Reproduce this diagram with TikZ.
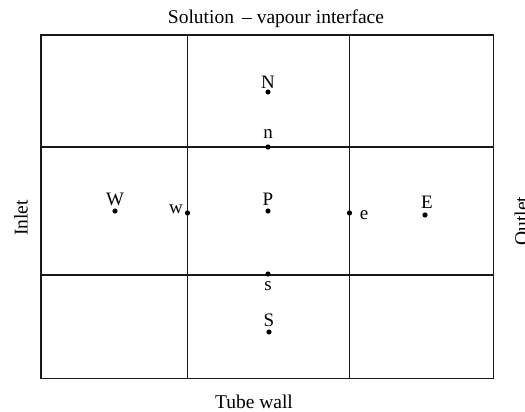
\documentclass[tikz,border=0pt]{standalone}
\usepackage{fontspec}
\setmainfont{Liberation Serif}
\begin{document}
\begin{tikzpicture}[x=1pt,y=-1pt,
  gridline/.style={line width=1.1pt, draw=black!90},
  pt/.style={circle, fill=black, inner sep=0pt, minimum size=5.2pt},
  lbl/.style={font=\fontsize{19}{22}\selectfont, inner sep=0pt},
  captext/.style={font=\fontsize{19.5}{22}\selectfont, inner sep=0pt}]
\useasboundingbox (0,0) rectangle (525,412);
\clip (0,0) rectangle (525,412);
% grid
\draw[gridline] (41,35) rectangle (493.5,378.5);
\draw[gridline] (187.5,35) -- (187.5,378.5);
\draw[gridline] (349.5,35) -- (349.5,378.5);
\draw[gridline] (41,147) -- (493.5,147);
\draw[gridline] (41,275) -- (493.5,275);
% points
\node[pt] (N) at (268,92) {};
\node[pt] (n) at (268,147) {};
\node[pt] (P) at (268,211) {};
\node[pt] (W) at (115,211) {};
\node[pt] (w) at (187.5,213) {};
\node[pt] (e) at (349.5,213) {};
\node[pt] (E) at (425,215) {};
\node[pt] (s) at (268,274) {};
\node[pt] (S) at (269,332) {};
% labels
\node[lbl] (lN) at (268,82) {N};
\node[lbl] (ln) at (268,134) {n};
\node[lbl] (lP) at (268,199) {P};
\node[lbl] (lW) at (115,199) {W};
\node[lbl] (lw) at (176,209) {w};
\node[lbl] (le) at (364,215) {e};
\node[lbl] (lE) at (427,202) {E};
\node[lbl] (ls) at (268,286) {s};
\node[lbl] (lS) at (269,320) {S};
% captions
\node[captext] (top) at (276,19) {Solution \,– vapour interface};
\node[captext] (bot) at (254,402) {Tube wall};
\node[captext, rotate=90] (inlet) at (21,218) {Inlet};
\node[captext, rotate=90] (outlet) at (521.5,221) {Outlet};
\end{tikzpicture}
\end{document}
